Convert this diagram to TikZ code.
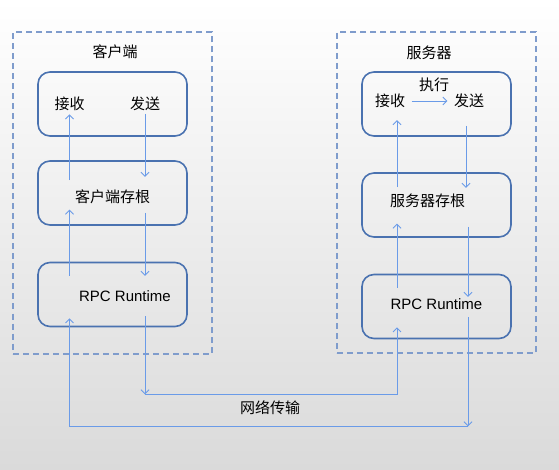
\documentclass[tikz,border=0pt]{standalone}
\usepackage{fontspec}
\setmainfont{Liberation Sans}
\newfontfamily\cjk{Noto Sans CJK SC}
\usetikzlibrary{arrows.meta}
\definecolor{boxcol}{HTML}{4A72B0}
\definecolor{framecol}{HTML}{7F9CCC}
\definecolor{linkcol}{HTML}{6A9BE8}
\definecolor{bgcol}{HTML}{DADADA}

\begin{document}
\begin{tikzpicture}[x=1pt,y=-1pt,font=\fontsize{15}{18}\selectfont,
    frame/.style={draw=framecol,line width=2pt,dash pattern=on 6pt off 4pt,
        minimum width=199pt,minimum height=321pt},
    box/.style={draw=boxcol,line width=1.6pt,rounded corners=12pt,
        minimum width=149pt,minimum height=64pt},
    link/.style={draw=linkcol,line width=0.9pt,-{Straight Barb[length=4pt,width=8pt]}}]
    \shade[top color=white,bottom color=bgcol,middle color=white!50!bgcol] (0,0) rectangle (559,470);
    \useasboundingbox (0,0) rectangle (559,470);
    \node[frame] (cframe) at (112.5,193) {};
    \node[frame] (sframe) at (436.5,192.5) {};
    \node (ctitle) at (115,52) {\cjk 客户端};
    \node (stitle) at (429,53) {\cjk 服务器};
    \node[box] (cbox1) at (112.5,104) {};
    \node[box] (cbox2) at (112.5,193) {};
    \node[box] (cbox3) at (112.5,294.5) {};
    \node[box] (sbox1) at (436.5,104) {};
    \node[box] (sbox2) at (436.5,205) {};
    \node[box] (sbox3) at (436.5,306.5) {};
    \node (crecv) at (69.5,104) {\cjk 接收};
    \node (csend) at (145,104) {\cjk 发送};
    \node (cstub) at (112.5,197) {\cjk 客户端存根};
    \node (crpc) at (125,296) {RPC Runtime};
    \node (srecv) at (390,101) {\cjk 接收};
    \node (ssend) at (469,101) {\cjk 发送};
    \node (sexec) at (434,85) {\cjk 执行};
    \node (sstub) at (427.5,201) {\cjk 服务器存根};
    \node (srpc) at (436.5,304) {RPC Runtime};
    \node (net) at (270,408) {\cjk 网络传输};
    \draw[link] (cbox2.north -| crecv) ++(0,20) -- (crecv.south);
    \draw[link] (cbox1.south -| csend) ++(0,-23) -- ++(0,63);
    \draw[link] (cbox3.north -| crecv) ++(0,14) -- ++(0,-66);
    \draw[link] (cbox2.south -| csend) ++(0,-13) -- ++(0,63);
    \draw[link] (cbox3.south -| csend) ++(0,-11) -- ++(0,78) coordinate (cnet);
    \draw[link] (cnet) -| ([xshift=7pt,yshift=12pt]sbox3.south -| srecv);
    \draw[link,shorten <=3pt,shorten >=3pt] (srecv.east) -- (ssend.west);
    \draw[link] (sbox2.north -| srecv) ++(7,15) -- ++(0,-67);
    \draw[link] (sbox1.south -| ssend) ++(-3,-11) -- ++(0,62);
    \draw[link] (sbox3.north -| srecv) ++(7,14) -- ++(0,-64);
    \draw[link] (sbox2.south -| ssend) ++(-1,-11) -- ++(0,70);
    \draw[link] (sbox3.south -| ssend) ++(-1,-22) -- ++(0,109) coordinate (snet);
    \draw[link] (snet) -| ([yshift=9pt]cbox3.south -| crecv);
\end{tikzpicture}
\end{document}
